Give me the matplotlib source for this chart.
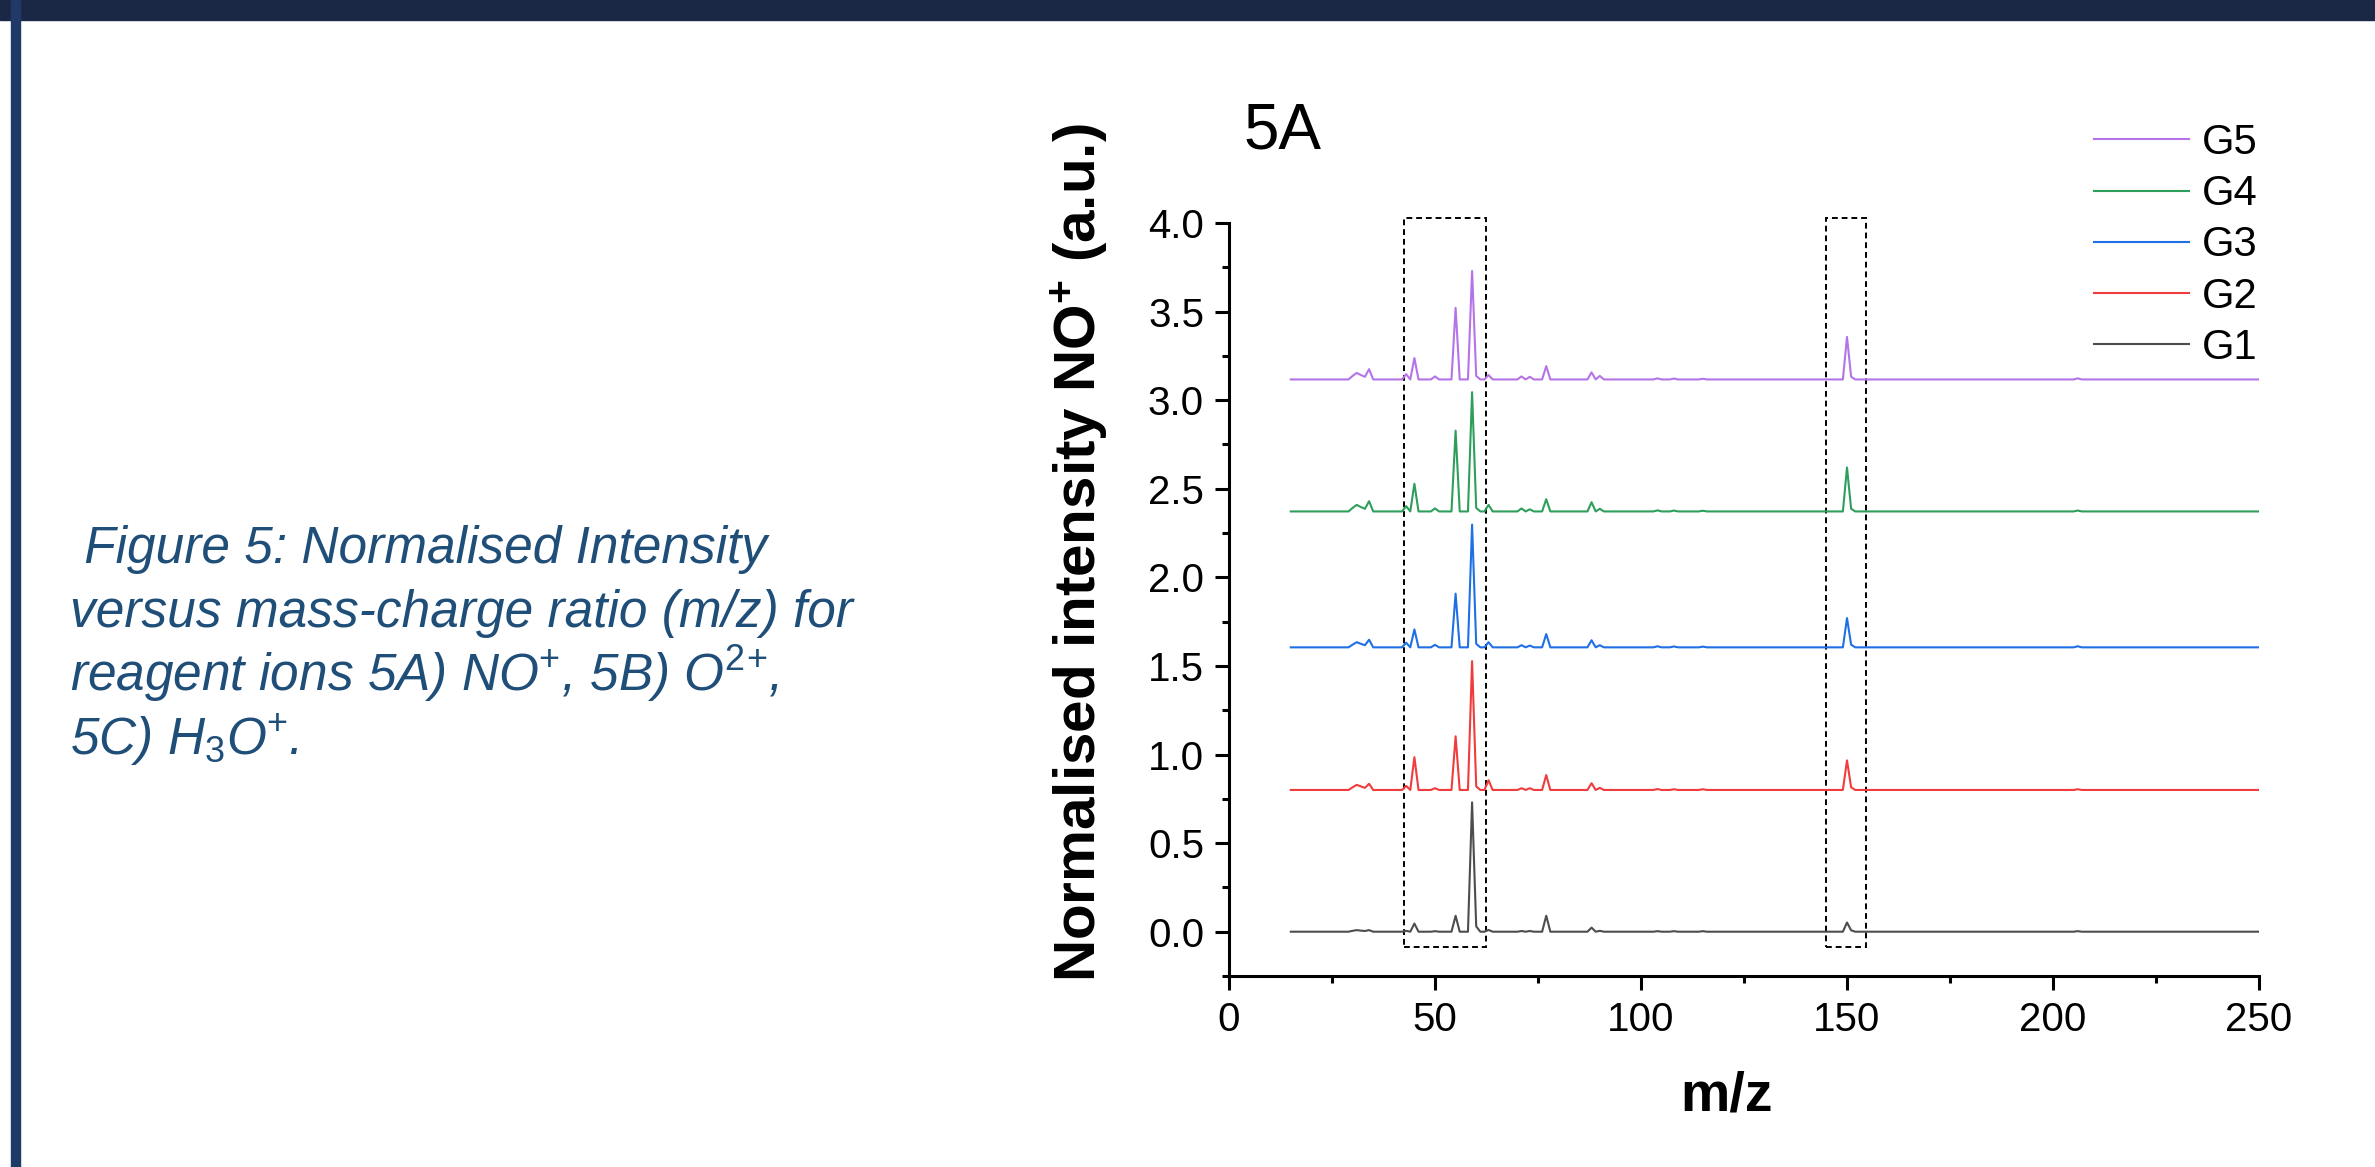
import matplotlib
matplotlib.use("Agg")
import matplotlib.pyplot as plt
import numpy as np
from matplotlib.patches import Rectangle
from matplotlib.ticker import MultipleLocator

plt.rcParams['font.family'] = ['Liberation Sans', 'DejaVu Sans']
plt.rcParams['mathtext.fontset'] = 'custom'
plt.rcParams['mathtext.rm'] = 'Liberation Sans'
plt.rcParams['mathtext.it'] = 'Liberation Sans:italic'
plt.rcParams['mathtext.bf'] = 'Liberation Sans:bold'

# m/z grid of the spectra
mz = np.arange(15, 251)

# m/z values where the spectra rise above their baseline
peak_mz = [30, 31, 32, 33, 34, 43, 45, 50, 55, 59, 60, 63, 71, 73, 77, 88, 90,
           104, 108, 115, 150, 151, 206]

series_names = ["G1", "G2", "G3", "G4", "G5"]
series_colors = ["#4D4D4D", "#F03C3C", "#1F6FE5", "#2E9E5B", "#B473E6"]
baselines = [0.0, 0.80, 1.605, 2.372, 3.117]

g1_peaks = [0.005, 0.009, 0.006, 0.004, 0.009, 0.005, 0.046, 0.003, 0.090, 0.730, 0.030,
            0.010, 0.004, 0.004, 0.090, 0.023, 0.005, 0.003, 0.003, 0.003, 0.052, 0.008, 0.003]
g2_peaks = [0.015, 0.029, 0.020, 0.012, 0.035, 0.023, 0.185, 0.010, 0.303, 0.727, 0.020,
            0.055, 0.010, 0.010, 0.084, 0.038, 0.012, 0.005, 0.004, 0.004, 0.167, 0.015, 0.004]
g3_peaks = [0.015, 0.029, 0.020, 0.012, 0.043, 0.026, 0.101, 0.014, 0.303, 0.693, 0.020,
            0.029, 0.012, 0.010, 0.075, 0.040, 0.012, 0.006, 0.005, 0.004, 0.165, 0.015, 0.006]
g4_peaks = [0.020, 0.037, 0.025, 0.015, 0.058, 0.030, 0.156, 0.017, 0.456, 0.673, 0.020,
            0.037, 0.017, 0.012, 0.069, 0.052, 0.015, 0.006, 0.005, 0.004, 0.248, 0.015, 0.005]
g5_peaks = [0.020, 0.037, 0.025, 0.015, 0.058, 0.030, 0.121, 0.017, 0.404, 0.612, 0.020,
            0.025, 0.017, 0.015, 0.075, 0.040, 0.020, 0.006, 0.005, 0.004, 0.240, 0.015, 0.006]
all_peaks = [g1_peaks, g2_peaks, g3_peaks, g4_peaks, g5_peaks]

# dashed boxes around the regions of interest
highlight_ranges = [(42.4, 62.3), (144.9, 154.6)]
highlight_y = (-0.085, 4.03)

caption_lines = [
    " Figure 5: Normalised Intensity",
    "versus mass-charge ratio (m/z) for",
    r"reagent ions 5A) NO$^{+}$, 5B) O$^{2}$$^{+}$,",
    r"5C) H$_{\mathit{3}}$O$^{+}$.",
]

W, H = 2375, 1167
fig = plt.figure(figsize=(W / 100, H / 100), dpi=100)
fig.patch.set_facecolor("white")

# page decorations: top banner and left border
fig.patches.append(Rectangle((0, 1 - 20 / H), 1, 20 / H, transform=fig.transFigure,
                             color="#1B2845", zorder=0))
fig.patches.append(Rectangle((11 / W, 0), 9 / W, 1, transform=fig.transFigure,
                             color="#1F3A68", zorder=1))

ax = fig.add_axes([1229 / W, (H - 976) / H, 1030 / W, (976 - 223) / H])

idx = np.searchsorted(mz, peak_mz)
lines = []
for name, color, base, peaks in zip(series_names, series_colors, baselines, all_peaks):
    y = np.full(len(mz), base)
    y[idx] += peaks
    ln, = ax.plot(mz, y, color=color, lw=1.5, label=name)
    lines.append(ln)

for x0, x1 in highlight_ranges:
    ax.add_patch(Rectangle((x0, highlight_y[0]), x1 - x0, highlight_y[1] - highlight_y[0],
                           fill=False, ec="black", lw=1.4, ls=(0, (3, 2)), clip_on=False))

ax.set_xlim(0, 250)
ax.set_ylim(-0.25, 4.0)
ax.xaxis.set_major_locator(MultipleLocator(50))
ax.xaxis.set_minor_locator(MultipleLocator(25))
ax.yaxis.set_major_locator(MultipleLocator(0.5))
ax.yaxis.set_minor_locator(MultipleLocator(0.25))
ax.yaxis.set_major_formatter(matplotlib.ticker.FormatStrFormatter('%.1f'))
for s in ["top", "right"]:
    ax.spines[s].set_visible(False)
for s in ["left", "bottom"]:
    ax.spines[s].set_linewidth(2.2)
ax.tick_params(which="major", direction="out", length=10, width=2.2, labelsize=29, pad=8)
ax.tick_params(which="minor", direction="out", length=5, width=2.2)

fig.text(1079 / W, 1 - 553 / H, r"Normalised intensity NO$^{\mathbf{+}}$ (a.u.)",
         rotation=90, ha="center", va="center", rotation_mode="anchor",
         fontsize=42, fontweight="bold")
fig.text(1726 / W, 1 - 1110 / H, "m/z", ha="center", va="baseline",
         fontsize=40, fontweight="bold")
fig.text(1244 / W, 1 - 148 / H, "5A", ha="left", va="baseline", fontsize=46)

ax.legend(lines[::-1], series_names[::-1], loc="upper left",
          bbox_to_anchor=(2094 / W, 1 - 123 / H), bbox_transform=fig.transFigure,
          frameon=False, fontsize=30, handlelength=2.28, handletextpad=0.3,
          labelspacing=0.27, borderpad=0, borderaxespad=0)

for i, txt in enumerate(caption_lines):
    fig.text(70 / W, 1 - (563 + 64 * i) / H, txt, ha="left", va="baseline",
             fontsize=37, style="italic", color="#1F4E79")

fig.savefig("out.png", dpi=100)
